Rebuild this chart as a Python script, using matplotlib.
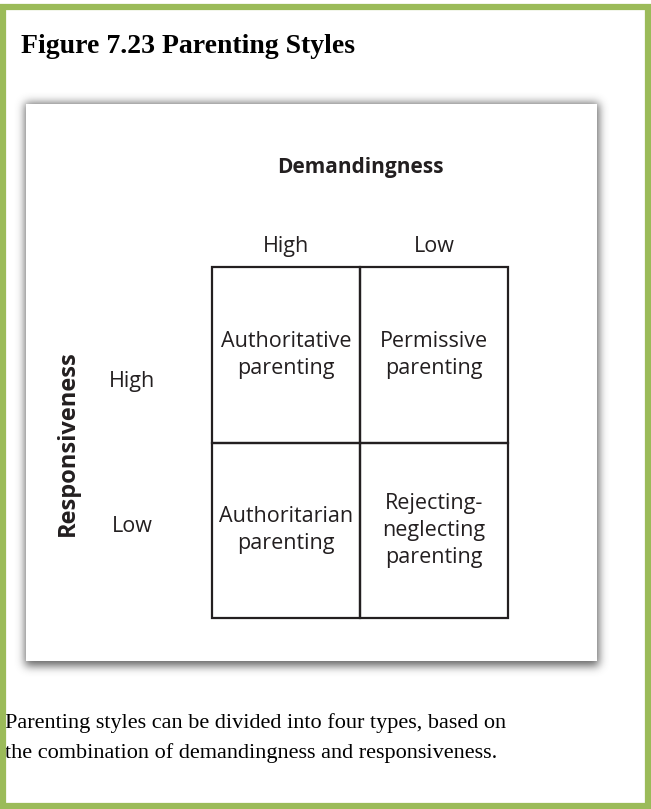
"""
Parenting styles 2x2 grid (demandingness x responsiveness), with the
figure caption and green frame of the textbook page.
"""

import matplotlib
matplotlib.use("Agg")
import matplotlib.pyplot as plt
import numpy as np
from matplotlib.patches import Rectangle

# ---------------------------------------------------------------------------
# data
TITLE = "Figure 7.23 Parenting Styles"
CAPTION = ["Parenting styles can be divided into four types, based on",
           "the combination of demandingness and responsiveness."]

col_axis = "Demandingness"
row_axis = "Responsiveness"
col_labels = ["High", "Low"]
row_labels = ["High", "Low"]
cells = [
    ["Authoritative\nparenting", "Permissive\nparenting"],
    ["Authoritarian\nparenting", "Rejecting-\nneglecting\nparenting"],
]

W, H = 651, 809
GREEN = "#9bbb59"
INK = "#231f20"
SANS = ["Open Sans", "DejaVu Sans"]
SERIF = ["Liberation Serif", "DejaVu Serif"]


def px_axes(fig, x0, y0, x1, y1):
    """Axes placed by pixel box (top-left origin)."""
    return fig.add_axes([x0 / W, 1 - y1 / H, (x1 - x0) / W, (y1 - y0) / H])


def blur1d(a, sigma, axis):
    r = int(3 * sigma)
    k = np.exp(-0.5 * (np.arange(-r, r + 1) / sigma) ** 2)
    k /= k.sum()
    return np.apply_along_axis(lambda v: np.convolve(v, k, mode="same"), axis, a)


fig = plt.figure(figsize=(W / 100, H / 100), dpi=100)
fig.patch.set_facecolor("white")

# page canvas in pixel coordinates
ax = fig.add_axes([0, 0, 1, 1])
ax.set_xlim(0, W)
ax.set_ylim(H, 0)
ax.axis("off")

# green frame
ax.add_patch(Rectangle((2.5, 6.5), W - 5.5, H - 9.5, fill=False,
                       edgecolor=GREEN, linewidth=4.5, zorder=5))

ax.text(21, 53, TITLE, family=SERIF, fontweight="bold", fontsize=20,
        ha="left", va="baseline", color="black")

# figure panel with soft drop shadow
bx0, by0, bx1, by1 = 26, 104, 597, 661
yy, xx = np.mgrid[0:H, 0:W]
mask = ((xx >= bx0 - 1) & (xx <= bx1 + 1) &
        (yy >= by0 - 1) & (yy <= by1 + 4)).astype(float)
shadow = blur1d(blur1d(mask, 4.5, 0), 4.5, 1)
rgba = np.zeros((H, W, 4))
rgba[..., :3] = 0.33
rgba[..., 3] = 0.9 * shadow
ax.imshow(rgba, extent=(0, W, H, 0), interpolation="bilinear", zorder=1)
ax.add_patch(Rectangle((bx0, by0), bx1 - bx0, by1 - by0, facecolor="white",
                       edgecolor="none", zorder=2))

ax.text(360, 173, col_axis, family=SANS, fontweight="bold", fontsize=15,
        ha="center", va="baseline", color=INK, zorder=3)
ax.text(68, 443, row_axis, family=SANS, fontweight="bold", fontsize=17,
        rotation=90, ha="center", va="center", color=INK, zorder=3)

for k, line in enumerate(CAPTION):
    ax.text(5, 728 + 30 * k, line, family=SERIF, fontsize=16,
            ha="left", va="baseline", color="black")

# grid of styles: cell (i, j) sits at [j, j+1] x [i, i+1]
gx = px_axes(fig, 212, 267, 508, 618)
gx.set_xlim(0, len(col_labels))
gx.set_ylim(len(row_labels), 0)
gx.set_zorder(3)
gx.patch.set_alpha(0)
gx.set_xticks([])
gx.set_yticks([])
for s in gx.spines.values():
    s.set_visible(False)

for i, row in enumerate(cells):
    for j, txt in enumerate(row):
        gx.add_patch(Rectangle((j, i), 1, 1, fill=False, edgecolor=INK,
                               linewidth=1.6, clip_on=False))
        gx.text(j + 0.5, i + 0.5, txt, family=SANS, fontsize=15.5,
                ha="center", va="center", linespacing=1.38, color=INK)

for j, lab in enumerate(col_labels):
    gx.text(j + 0.5, -0.085, lab, family=SANS, fontsize=15.5,
            ha="center", va="baseline", color=INK)

row_label_y = [0.65, 1.48]   # labels sit a little off the cell centres
for i, lab in enumerate(row_labels):
    gx.text(-0.54, row_label_y[i], lab, family=SANS, fontsize=15.5,
            ha="center", va="center", color=INK)

fig.savefig("out.png", dpi=100, facecolor="white")
